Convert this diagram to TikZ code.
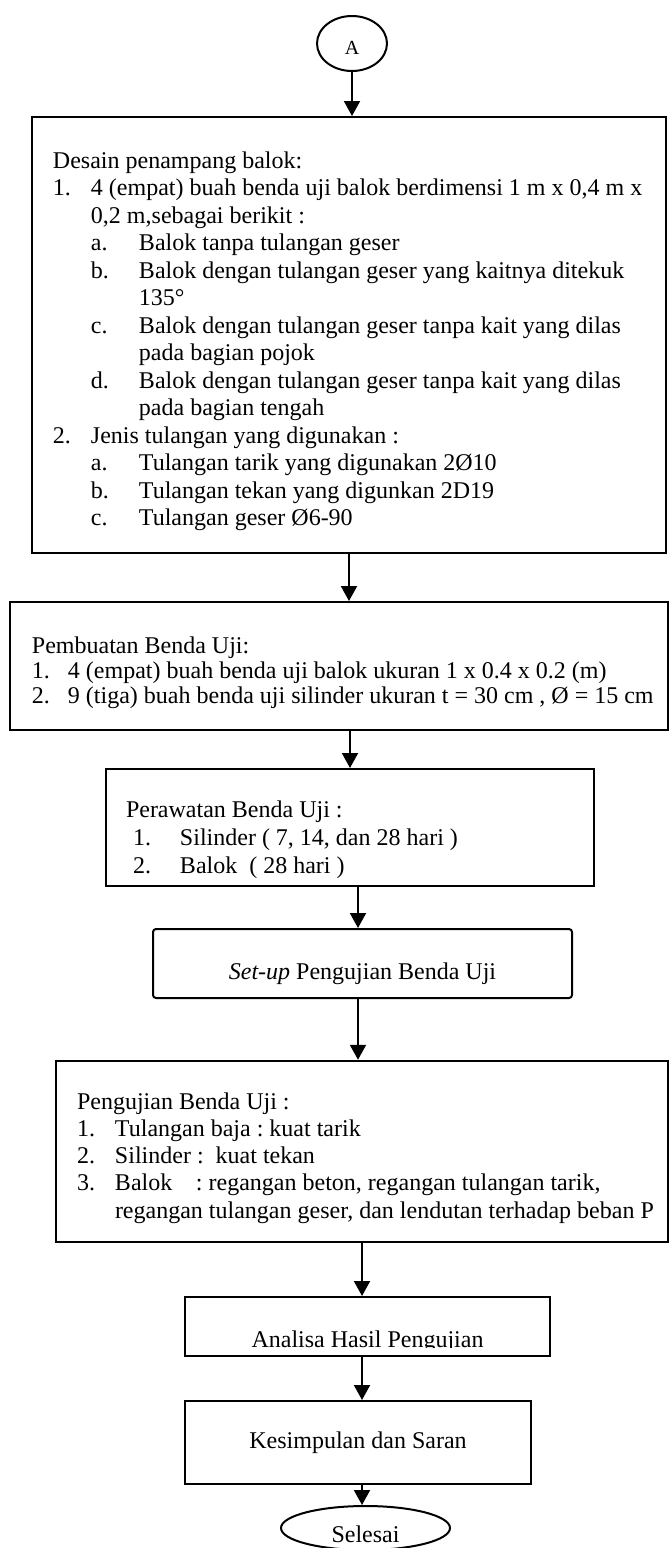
\documentclass[tikz,border=0pt]{standalone}
\usepackage{fontspec}
\setmainfont{Liberation Serif}
\usetikzlibrary{arrows.meta,shapes.geometric}

% list lines: number in a fixed box, then the text (normal word spaces)
\newcommand\plainsp{\frenchspacing\spaceskip=0pt\xspaceskip=0pt\relax}
\newcommand\boxhead[2]{\mbox{\plainsp\rule{0pt}{#1}#2}}
\newcommand\nr[3][19pt]{\mbox{\plainsp\makebox[#1][l]{#2}#3}}
\newcommand\subnr[2]{\mbox{\plainsp\hspace*{19pt}\makebox[24pt][l]{#1}#2}}

\tikzset{
  box/.style={draw, line width=1pt, inner sep=0pt},
  listbox/.style={box, align=left},
  arr/.style={line width=1pt, -{Triangle[length=7.5pt,width=8pt]}}
}

\begin{document}
\begin{tikzpicture}[x=0.5pt, y=-0.5pt, font=\fontsize{12}{13.75}\selectfont]
\useasboundingbox (0,0) rectangle (670,1548);

\node[draw, ellipse, line width=1pt, minimum width=35pt, minimum height=27.5pt, inner sep=0pt,
  font=\fontsize{10}{12}\selectfont, text height=11.1pt] (A) at (352,43.5) {A};

\node[listbox, text width=296pt, inner xsep=10.5pt, minimum height=218pt] (desain) at (349,335)
{\boxhead{14.4pt}{Desain penampang balok:}\\
 \nr{1.}{4 (empat) buah benda uji balok berdimensi 1 m x 0,4 m x}\\
 \nr{}{0,2 m,sebagai berikit :}\\
 \subnr{a.}{Balok tanpa tulangan geser}\\
 \subnr{b.}{Balok dengan tulangan geser yang kaitnya ditekuk}\\
 \subnr{}{135°}\\
 \subnr{c.}{Balok dengan tulangan geser tanpa kait yang dilas}\\
 \subnr{}{pada bagian pojok}\\
 \subnr{d.}{Balok dengan tulangan geser tanpa kait yang dilas}\\
 \subnr{}{pada bagian tengah}\\
 \nr{2.}{Jenis tulangan yang digunakan :}\\
 \subnr{a.}{Tulangan tarik yang digunakan 2Ø10}\\
 \subnr{b.}{Tulangan tekan yang digunkan 2D19}\\
 \subnr{c.}{Tulangan geser Ø6-90}};

\node[listbox, text width=307pt, inner xsep=11pt, minimum height=64pt,
  font=\fontsize{12}{12.5}\selectfont] (buat) at (339,666)
{\boxhead{14.6pt}{Pembuatan Benda Uji:}\\
 \nr[18pt]{1.}{4 (empat) buah benda uji balok ukuran 1 x 0.4 x 0.2 (m)}\\
 \nr[18pt]{2.}{9 (tiga) buah benda uji silinder ukuran t = 30 cm , Ø = 15 cm}};

\node[listbox, text width=224pt, inner xsep=10pt, minimum height=58.5pt,
  font=\fontsize{12}{14}\selectfont] (rawat) at (350,827.5)
{\boxhead{20.1pt}{Perawatan Benda Uji :}\\
 \nr[27pt]{\hspace*{3.5pt}1.}{Silinder ( 7, 14, dan 28 hari )}\\
 \nr[27pt]{\hspace*{3.5pt}2.}{Balok~~( 28 hari )}};

\node[box, rounded corners=1.5pt, minimum width=209.5pt, minimum height=34.5pt,
  text height=18.1pt, text depth=2.6pt] (setup) at (362.5,963.5) {\textit{Set-up} Pengujian Benda Uji};

\node[listbox, text width=285pt, inner xsep=10.5pt, minimum height=90.75pt,
  font=\fontsize{12}{13.65}\selectfont] (uji) at (362,1151.5)
{\boxhead{14.7pt}{Pengujian Benda Uji :}\\
 \nr{1.}{Tulangan baja : kuat tarik}\\
 \nr{2.}{Silinder :~~kuat tekan}\\
 \nr{3.}{\makebox[40.5pt][l]{Balok}: regangan beton, regangan tulangan tarik,}\\
 \nr{}{regangan tulangan geser, dan lendutan terhadap beban P}};

\node[box, minimum width=182.5pt, minimum height=29.5pt] (analisa) at (367.5,1326.5) {};
% the text is cut at its baseline
\begin{scope}
  \clip (analisa.north west) rectangle (analisa.east |- 0,1347);
  \node[anchor=base] (analisatext) at (367.5,1347) {Analisa Hasil Pengujian};
\end{scope}

\node[box, minimum width=173pt, minimum height=41.5pt] (simpul) at (358,1442.5) {Kesimpulan dan Saran};

\node[draw, ellipse, line width=1pt, minimum width=84.5pt, minimum height=22pt, inner sep=0pt,
  text height=14pt, text depth=0pt] (selesai) at (365.5,1528) {Selesai};

\draw[arr] (A) -- (A |- desain.north);
\draw[arr] (desain) -- (desain |- buat.north);
\draw[arr] (rawat |- buat.south) -- (rawat);
\draw[arr] ([xshift=4pt]rawat.south) -- ([xshift=4pt]rawat.south |- setup.north);
\draw[arr] ([xshift=-2.25pt]setup.south) -- ([xshift=-2.25pt]setup.south |- uji.north);
\draw[arr] (uji) -- (uji |- analisa.north);
\draw[arr] ([xshift=-2.75pt]analisa.south) -- ([xshift=-2.75pt]analisa.south |- simpul.north);
\draw[arr] ([xshift=2pt]simpul.south) -- ([xshift=2pt]simpul.south |- selesai.north);
\end{tikzpicture}
\end{document}
